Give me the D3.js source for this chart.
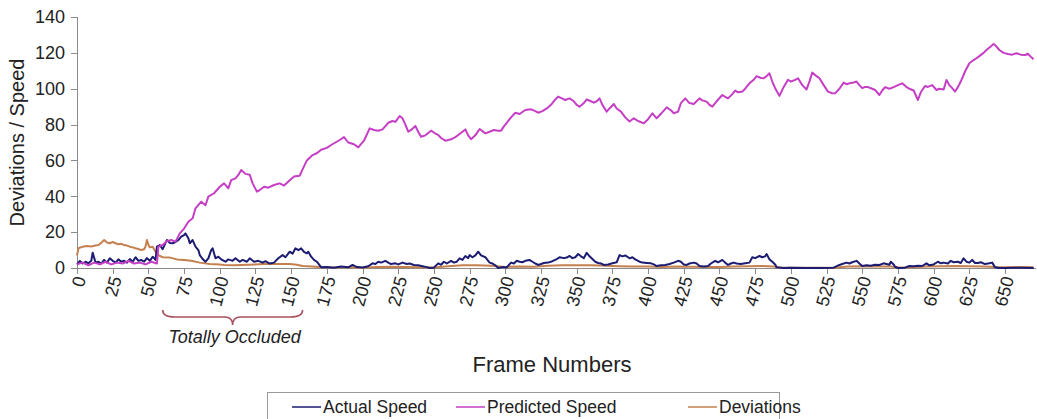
<!DOCTYPE html>
<html>

<head>
  <title>Actual vs Predicted Speed</title>
  <meta charset="utf-8">
  <script src="https://d3js.org/d3.v7.min.js"></script>
  <style>
    body {
      padding: 0;
      margin: 0;
      background: white;
      font-family: "Liberation Sans", Arial, sans-serif;
    }
    .axis path, .axis line {
      stroke: #8a8a8a;
      shape-rendering: crispEdges;
    }
    .axis text {
      fill: #222;
      font-size: 18px;
      font-family: "Liberation Sans", Arial, sans-serif;
    }
    .series {
      fill: none;
      stroke-width: 2;
      stroke-linejoin: round;
    }
    .label {
      fill: #222;
      font-family: "Liberation Sans", Arial, sans-serif;
    }
  </style>
</head>

<body>
  <div id="chart"></div>

  <script>
    // x axis tick labels (frame numbers)
    var frameTicks = [0, 25, 50, 75, 100, 125, 150, 175, 200, 225, 250, 275, 300, 325,
      350, 375, 400, 425, 450, 475, 500, 525, 550, 575, 600, 625, 650]

    // y axis ticks
    var speedTicks = [0, 20, 40, 60, 80, 100, 120, 140]

    // series names for the legend
    var seriesNames = ["Actual Speed", "Predicted Speed", "Deviations"]

    // [frame, value]
    var actualSpeed = [[0,2],[2,3.9],[4,2.5],[6,3.5],[8,2.6],[10,4],[11,8.5],[13,3],[15,3.5],[17,2.5],[19,4.5],[21,3],[23,5.4],[25,4],[27,3],[29,4.8],[31,3.5],[33,4],[35,3],[37,5],[39,3.5],[41,6],[43,4],[45,4.5],[47,3.5],[49,5.5],[51,4],[53,6.3],[55,4.5],[56,11.9],[58,12.8],[60,10.5],[62,14],[63,15.6],[65,14],[67,13.8],[69,14.5],[71,15.6],[73,17.5],[75,18.4],[76,19.3],[78,16.6],[79,13.8],[81,15.6],[83,11.9],[85,10],[86,7.2],[88,5],[90,3.5],[92,5.4],[94,10],[95,11],[97,5.4],[99,6.3],[101,4.8],[104,3.5],[106,4.8],[109,4],[111,5.4],[114,3.5],[116,4.5],[119,3.5],[121,5.4],[124,3.5],[127,4],[130,3],[132,3.8],[135,2.5],[138,3],[141,5.4],[144,7.2],[146,6],[149,9.1],[151,8],[153,11],[155,10],[157,11],[159,9],[161,8.2],[162,9.1],[164,6.3],[166,4.5],[168,3.5],[170,1.5],[171,0.4],[175,0.6],[180,0.2],[185,0.8],[190,0.4],[193,1.7],[196,0.5],[200,0.3],[204,1],[207,2.6],[209,2.2],[211,3.5],[213,3],[216,4],[218,3],[220,2.2],[223,2.6],[225,2],[228,3],[231,2.2],[233,2.5],[236,1.7],[239,1.5],[242,1],[245,0.5],[247,0],[250,0.2],[253,2.6],[255,1.8],[257,3.5],[259,2.5],[262,4],[264,3],[266,3.5],[268,5.4],[270,4.5],[272,6.7],[274,5.5],[275,7.2],[277,6],[279,7],[281,9.1],[283,7],[286,6],[288,4],[289,3],[291,2.5],[293,1.5],[295,0],[298,0.5],[301,0.3],[304,3],[306,2.5],[308,4],[310,3.5],[312,3.2],[314,4],[317,4.5],[319,3.5],[321,2.5],[323,1.7],[325,2.2],[327,2.8],[330,3],[333,3.8],[336,5],[338,6],[341,5.5],[343,5.8],[345,6.7],[347,5.5],[349,6],[351,7.8],[353,6.5],[355,5.5],[357,8.5],[359,6.5],[361,5],[363,3.5],[365,2.8],[367,2.5],[369,1.7],[372,2],[375,2.6],[378,3.2],[380,7.2],[382,6.5],[384,7],[386,6],[387,5.4],[389,6],[391,4.8],[394,3.5],[396,3],[399,2.8],[402,2.6],[404,2],[406,1.1],[409,1.5],[412,1.7],[415,2.2],[418,3],[421,4],[423,3.5],[425,2],[427,1.7],[429,2.5],[432,3],[434,2.5],[436,1.1],[439,0.8],[442,1.1],[444,2.5],[447,4],[449,3.2],[452,4.5],[454,3],[456,1.7],[458,2.5],[460,3],[462,2.5],[465,2.2],[468,2.6],[471,3],[473,6],[475,5.5],[478,6.7],[480,6],[482,6.5],[483,7.8],[485,4.8],[487,3.5],[489,2],[490,0.4],[495,0],[500,0.1],[510,0],[520,0],[530,0.2],[534,1.7],[536,2.2],[539,3],[541,2.5],[543,3.2],[546,4],[548,2.5],[550,1.1],[553,1.5],[556,1.3],[559,1.8],[562,1.7],[565,2.6],[567,2.2],[569,1.8],[570,3.5],[572,2],[573,0.7],[575,0],[580,0.2],[583,1.1],[586,1],[589,1.3],[592,1.1],[595,2.6],[597,1.5],[600,2],[603,3.5],[605,2.6],[607,3],[610,2.5],[612,4],[614,3.2],[617,3.5],[619,2.8],[621,5.4],[623,3.5],[625,3],[627,4.5],[629,2.8],[631,2.8],[633,3.2],[636,2.2],[639,2.6],[641,3],[643,0.4],[646,0],[650,0],[660,0.1],[670,0]]

    var predictedSpeed = [[0,2],[4,3],[8,1.5],[12,3],[16,2],[20,3.5],[24,2],[28,3],[32,2.5],[36,4],[40,2.5],[44,3],[48,2],[52,3.5],[56,2.5],[57,11.9],[60,12.8],[63,15],[66,15.6],[69,14.7],[72,19.3],[75,22],[78,25.8],[81,27.7],[83,33.3],[87,37],[90,35],[92,39.8],[96,41.7],[100,45.3],[103,47.2],[106,44.5],[108,49],[111,50],[113,51.9],[115,54.7],[118,52.5],[121,52],[123,47.2],[126,42.6],[128,43.5],[131,45.3],[134,44.8],[138,46.3],[142,47.2],[145,46],[149,49],[152,51],[156,51.5],[158,55],[161,60],[165,63],[168,64],[171,66],[175,67],[178,68.6],[181,70],[184,71.4],[187,73],[190,70],[194,69],[197,67.3],[201,71],[205,77.9],[208,77],[211,76.6],[214,77.3],[218,81],[221,82],[223,81.5],[226,84.8],[228,83.5],[230,80],[232,76],[234,77],[237,79.2],[239,76],[241,73.2],[244,74],[248,76.6],[251,75],[253,74.2],[255,72.5],[258,71],[262,71.8],[265,73],[267,74.2],[270,76],[272,77.3],[274,74],[276,71.8],[279,74],[282,77.5],[286,75.1],[289,76],[292,77],[295,76.5],[297,76.6],[299,79],[301,81],[304,84],[307,86.6],[310,85.9],[314,88.1],[318,88.5],[321,87.5],[323,86.6],[326,87.5],[329,89],[332,91],[335,94],[337,95.6],[340,94.5],[342,93.7],[345,94.6],[348,93],[350,91],[352,90],[355,92],[357,94],[360,93],[362,92.2],[364,93],[366,94.6],[368,91],[371,87.2],[373,89],[376,91.5],[378,89],[381,87.2],[384,84],[387,81.7],[390,83.5],[393,82],[397,80.7],[400,83],[403,86.3],[406,83.5],[409,86],[413,89.6],[416,88],[418,86.3],[421,87.2],[423,92],[426,94.6],[429,92],[432,91.5],[436,94.6],[438,93.5],[441,92.8],[443,91],[445,90],[448,93],[452,96.5],[454,95.5],[456,94.6],[459,97],[461,99],[463,98],[466,98.4],[468,100],[471,103],[474,105],[476,107],[479,106],[481,105.8],[483,107],[485,108.6],[487,104],[489,100.3],[491,97.5],[492,96],[495,101],[498,105],[500,104],[503,104.9],[505,105.8],[508,102],[511,99.6],[513,104],[515,109],[518,107],[520,105.8],[523,102],[526,98.4],[529,97.5],[531,97.4],[534,100],[537,103.4],[539,102.5],[541,103],[544,103.5],[546,104],[548,102],[550,100.3],[552,101],[554,100.9],[557,100],[559,99.3],[562,96.5],[564,99],[566,100.9],[569,100],[572,100.9],[575,102],[578,103],[581,100.9],[583,100],[586,99],[589,93.7],[591,98],[594,101.5],[596,101],[599,102],[602,99.3],[604,100],[607,99.6],[609,104.9],[611,102],[613,100.3],[615,98.4],[617,100.9],[619,104],[622,109.6],[625,114.2],[628,116],[630,117],[632,118.2],[635,120],[637,121.6],[640,123.5],[642,125],[644,123.5],[646,121.6],[649,120],[652,119.4],[655,119],[658,119.8],[661,119],[664,118.8],[666,119.5],[668,117.9],[670,116.4]]

    var deviations = [[0,7],[1,11],[4,11.9],[7,12.3],[10,12],[13,12.5],[15,12.8],[17,14],[19,15.6],[21,14.2],[23,13.8],[25,14.5],[27,13.8],[29,13.2],[31,13.5],[33,12.8],[35,12.5],[37,11.9],[39,11.5],[41,11],[43,10.6],[45,10],[47,10.5],[48,12],[49,15.6],[50,13],[51,11.5],[53,11.9],[55,9.1],[57,7.2],[60,6],[65,5.8],[70,4.8],[75,4.5],[80,4],[86,3],[93,2.2],[100,1.9],[103,1.7],[110,1.6],[120,1.8],[131,2.2],[140,2.3],[149,2.2],[154,1.8],[158,1.1],[165,0.8],[172,0.4],[180,0.3],[190,0.5],[200,0.2],[210,0.5],[220,0.7],[230,0.5],[240,0.4],[250,0.3],[260,1],[270,1.5],[280,1.6],[290,1.2],[300,0.6],[310,0.8],[320,0.7],[330,1.2],[340,1.5],[350,1.6],[360,1.5],[370,1.2],[380,1],[390,0.9],[400,0.8],[410,0.6],[420,0.8],[430,0.7],[440,0.6],[450,0.6],[460,0.8],[470,1],[480,1.1],[488,0.8],[492,0.2],[500,0.1],[510,0.1],[520,0.1],[530,0.2],[540,0.8],[550,1],[560,0.9],[570,0.8],[575,0.3],[585,0.4],[595,0.8],[605,1],[615,1.1],[625,1],[635,0.9],[643,0.5],[650,0.4],[660,0.5],[670,0.4]]

    // occluded frame range marked with the brace
    var occludedRange = [60, 158]

    var width = 1037,
      height = 419

    var svg = d3.select("#chart")
      .append("svg")
      .attr("width", width)
      .attr("height", height)

    // scales
    var x = d3.scaleLinear().domain([0, 671]).range([77, 1035])
    var y = d3.scaleLinear().domain([0, 140]).range([268, 17])

    var color = d3.scaleOrdinal()
      .domain(seriesNames)
      .range(["#1c1c72", "#c53ec5", "#c4804f"])

    // y axis
    svg.append("g")
      .attr("class", "axis")
      .attr("transform", "translate(" + x(0) + ",0)")
      .call(d3.axisLeft(y).tickValues(speedTicks).tickSize(6).tickPadding(6))
      .call(function (g) { g.select(".domain").attr("d", "M0," + y(140) + "V" + y(0)) })

    // x axis with slanted labels
    var xAxis = svg.append("g")
      .attr("class", "axis")
      .attr("transform", "translate(0," + y(0) + ")")
      .call(d3.axisBottom(x).tickValues(frameTicks).tickSize(6).tickSizeOuter(0))

    xAxis.selectAll("text")
      .attr("text-anchor", "end")
      .attr("transform", "translate(4,3) rotate(-75)")
      .attr("x", -6)
      .attr("y", 0)
      .attr("dy", "0.35em")

    // lines
    var line = d3.line()
      .x(function (d) { return x(d[0]) })
      .y(function (d) { return y(d[1]) })

    var seriesData = [actualSpeed, predictedSpeed, deviations]

    // draw deviations first, then actual, predicted on top
    svg.append("g")
      .selectAll("path")
      .data([2, 0, 1])
      .enter().append("path")
      .attr("class", "series")
      .attr("d", function (i) { return line(seriesData[i]) })
      .style("stroke", function (i) { return color(seriesNames[i]) })

    // axis titles
    svg.append("text")
      .attr("class", "label")
      .attr("transform", "translate(24," + y(70) + ") rotate(-90)")
      .attr("text-anchor", "middle")
      .style("font-size", "20px")
      .text("Deviations / Speed")

    svg.append("text")
      .attr("class", "label")
      .attr("x", 552)
      .attr("y", 372)
      .attr("text-anchor", "middle")
      .style("font-size", "22px")
      .text("Frame Numbers")

    // brace under the occluded frames
    var b0 = x(occludedRange[0]), b1 = x(occludedRange[1]), bm = (b0 + b1) / 2
    svg.append("path")
      .attr("d", "M" + b0 + ",310 Q" + b0 + ",317 " + (b0 + 12) + ",317 L" + (bm - 8) + ",317 Q" + bm + ",317 " + bm + ",325"
        + " Q" + bm + ",317 " + (bm + 8) + ",317 L" + (b1 - 12) + ",317 Q" + b1 + ",317 " + b1 + ",310")
      .style("fill", "none")
      .style("stroke", "#a8505e")
      .style("stroke-width", 1.6)

    svg.append("text")
      .attr("class", "label")
      .attr("x", bm + 2)
      .attr("y", 343)
      .attr("text-anchor", "middle")
      .style("font-size", "18px")
      .style("font-style", "italic")
      .text("Totally Occluded")

    // legend
    var legend = svg.append("g")
    legend.append("rect")
      .attr("x", 267.5)
      .attr("y", 392.5)
      .attr("width", 512)
      .attr("height", 40)
      .style("fill", "white")
      .style("stroke", "#9a9a9a")

    var legendX = [292, 456, 688]
    var item = legend.selectAll("g")
      .data(seriesNames)
      .enter().append("g")
      .attr("transform", function (d, i) { return "translate(" + legendX[i] + ",407)" })

    item.append("line")
      .attr("x1", 0).attr("x2", 29)
      .style("stroke", function (d) { return color(d) })
      .style("stroke-width", 1.5)

    item.append("text")
      .attr("class", "label")
      .attr("x", 31)
      .attr("dy", "0.35em")
      .style("font-size", "17.5px")
      .text(function (d) { return d })
  </script>
</body>

</html>
